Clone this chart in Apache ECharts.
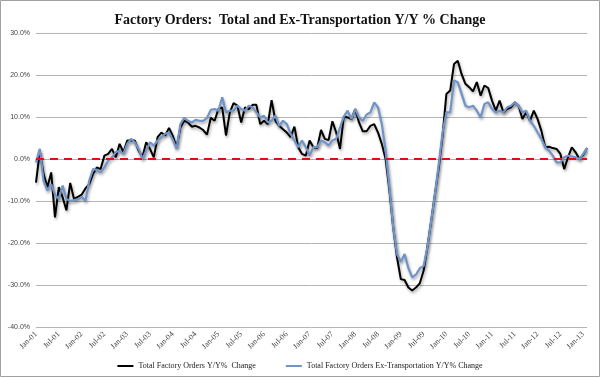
<!DOCTYPE html>
<html>
<head>
<meta charset="utf-8">
<script src="https://cdn.jsdelivr.net/npm/echarts@6/dist/echarts.min.js"></script>
<style>
  html, body { margin: 0; padding: 0; background: #fff; }
  #chart { width: 600px; height: 377px; }
</style>
</head>
<body>
<div id="chart"></div>
<script>
// === DATA ===
const monthNames = ['Jan', 'Feb', 'Mar', 'Apr', 'May', 'Jun', 'Jul', 'Aug', 'Sep', 'Oct', 'Nov', 'Dec'];
// monthly categories Jan-01 .. Feb-13
const categories = [];
for (let y = 1; y <= 13; y++) {
    for (let m = 0; m < 12; m++) {
        if (y === 13 && m > 1) break;
        categories.push(monthNames[m] + '-' + String(y).padStart(2, '0'));
    }
}

const totalOrders = [
    -5.6, 1.8, -3.6, -6.7, -3.2, -13.9, -6.7, -9.1, -12.2, -5.7,
    -9.5, -9.0, -8.5, -7.0, -6.0, -3.6, -2.0, -2.4, 0.8, 1.2,
    2.4, 0.4, 3.6, 1.6, 4.4, 4.4, 4.4, 2.0, 0.4, 4.0,
    2.4, 0.4, 5.2, 6.3, 5.6, 7.4, 5.5, 2.8, 7.5, 9.1,
    8.7, 7.7, 7.9, 7.5, 6.9, 5.8, 9.8, 9.1, 11.9, 12.3,
    5.6, 11.1, 13.3, 12.7, 8.7, 12.3, 11.9, 12.9, 12.9, 8.3,
    9.1, 8.3, 14.0, 9.1, 7.9, 7.1, 6.3, 5.2, 7.7, 2.8,
    1.2, 0.8, 4.4, 2.8, 2.6, 6.9, 4.8, 4.5, 9.0, 6.3,
    2.4, 10.1, 9.9, 9.5, 11.9, 8.7, 6.6, 6.6, 7.9, 8.3,
    6.3, 3.6, 0.0, -7.5, -16.3, -23.4, -28.6, -28.8, -30.6, -31.3,
    -30.6, -29.6, -26.6, -21.0, -14.7, -8.3, -2.0, 5.6, 15.5, 16.3,
    22.6, 23.4, 20.2, 17.9, 17.1, 16.1, 18.3, 15.1, 17.5, 16.9,
    13.9, 11.5, 13.9, 11.1, 11.9, 12.3, 13.5, 12.7, 9.5, 11.1,
    9.1, 11.5, 9.5, 6.7, 2.8, 2.9, 2.6, 2.4, 1.2, -2.4,
    0.4, 2.8, 1.6, 0.0, 1.0, 2.6
];

const exTransport = [
    -0.8, 2.4, -5.2, -7.5, -6.0, -8.5, -9.5, -6.3, -9.5, -10.0,
    -9.8, -9.6, -9.0, -10.0, -5.2, -2.4, -2.6, -3.2, -2.0, -0.4,
    0.4, 1.6, 2.0, 1.2, 3.6, 4.8, 4.0, 2.4, 0.0, 2.0,
    4.0, 3.2, 4.4, 5.2, 6.0, 6.3, 4.6, 2.4, 8.3, 9.8,
    9.1, 8.7, 9.3, 9.1, 9.1, 9.8, 11.7, 11.9, 11.5, 14.7,
    11.1, 11.5, 11.5, 12.7, 11.9, 11.5, 12.7, 12.3, 11.1, 9.9,
    10.3, 8.7, 9.1, 10.3, 7.9, 9.1, 8.3, 6.0, 4.4, 2.8,
    4.4, 2.8, 0.8, 2.9, 2.8, 4.4, 4.0, 3.2, 4.4, 4.8,
    7.5, 10.1, 11.5, 9.5, 11.9, 9.9, 9.1, 10.6, 11.1, 13.5,
    12.3, 8.3, 2.0, -6.7, -16.3, -22.6, -24.5, -22.6, -26.0, -28.2,
    -27.5, -26.0, -25.5, -21.0, -14.7, -8.3, -1.2, 6.3, 11.1, 11.1,
    18.7, 18.3, 15.5, 12.7, 12.3, 12.7, 11.5, 9.9, 13.1, 13.5,
    11.9, 11.1, 11.5, 11.1, 12.3, 12.7, 13.5, 12.7, 11.1, 11.5,
    9.1, 7.9, 6.3, 4.8, 2.8, 2.0, 0.8, -0.8, -0.8, 0.4,
    0.8, 0.6, 0.4, 0.0, 1.2, 2.6
];

const seriesNames = [
    'Total Factory Orders Y/Y%  Change',
    'Total Factory Orders Ex-Transportation Y/Y% Change'
];

const yMin = -40;
const yMax = 30;
const yStep = 10;

// === RENDER ===
const serif = '"Liberation Serif", "DejaVu Serif", serif';
const chart = echarts.init(document.getElementById('chart'));

const lineShadow = {
    shadowColor: 'rgba(0,0,0,0.35)',
    shadowBlur: 3,
    shadowOffsetX: 1,
    shadowOffsetY: 2
};

chart.setOption({
    animation: false,
    backgroundColor: '#fff',
    title: {
        text: 'Factory Orders:  Total and Ex-Transportation Y/Y % Change',
        left: 'center',
        top: 8,
        textStyle: { fontFamily: serif, fontSize: 14, fontWeight: 'bold', color: '#111' }
    },
    graphic: [{
        type: 'rect',
        shape: { x: 0.5, y: 0.5, width: 599, height: 376 },
        style: { fill: 'none', stroke: '#a0a0a0', lineWidth: 1 },
        silent: true
    }],
    legend: {
        bottom: 2,
        left: 'center',
        itemGap: 30,
        itemWidth: 16,
        itemHeight: 2,
        icon: 'rect',
        textStyle: { fontFamily: serif, fontSize: 8, color: '#222' },
        data: seriesNames
    },
    grid: { left: 36, right: 13, top: 33, bottom: 50 },
    xAxis: {
        type: 'category',
        data: categories,
        boundaryGap: false,
        axisLine: { show: true, lineStyle: { color: '#b0b0b0' } },
        axisTick: { show: false },
        axisLabel: {
            interval: idx => idx % 6 === 0,
            rotate: 45,
            fontFamily: serif,
            fontSize: 8,
            color: '#444',
            margin: 6
        }
    },
    yAxis: {
        type: 'value',
        min: yMin,
        max: yMax,
        interval: yStep,
        axisLine: { show: false },
        axisTick: { show: false },
        splitLine: { lineStyle: { color: '#b4b4b4', width: 1 } },
        axisLabel: {
            formatter: v => v.toFixed(1) + '%',
            fontFamily: '"Liberation Sans", Arial, sans-serif',
            fontSize: 7,
            color: '#444',
            margin: 6
        }
    },
    series: [
        {
            name: seriesNames[0],
            type: 'line',
            data: totalOrders,
            symbol: 'none',
            color: '#000000',
            lineStyle: Object.assign({ width: 2, color: '#000000' }, lineShadow),
            z: 2,
            markLine: {
                silent: true,
                symbol: 'none',
                label: { show: false },
                lineStyle: { color: '#e01010', type: [8, 6], width: 2 },
                data: [{ yAxis: 0 }]
            }
        },
        {
            name: seriesNames[1],
            type: 'line',
            data: exTransport,
            symbol: 'none',
            color: '#7094c8',
            lineStyle: Object.assign({ width: 2.2, color: '#7094c8' }, lineShadow),
            z: 3
        }
    ]
});
</script>
</body>
</html>
